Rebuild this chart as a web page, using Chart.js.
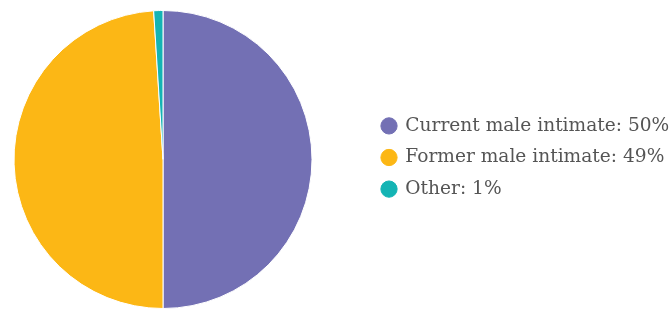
<!DOCTYPE html>
<html>
<head>
<meta charset="utf-8">
<script src="https://cdn.jsdelivr.net/npm/chart.js@4"></script>
<style>
  html, body { margin: 0; padding: 0; background: #fff; }
  #wrap { width: 670px; height: 309px; }
</style>
</head>
<body>
<div id="wrap"><canvas id="mycanvas"></canvas></div>
<script>
var categories = ["Current male intimate", "Former male intimate", "Other"];
var shares = [50, 49, 1];
var sliceColors = ["#7370B4", "#FCB715", "#14B4B4"];

// keeps the pie on the left and moves the legend to where it sits in the picture
var legendPlace = {
	id: 'legendPlace',
	afterInit: function(chart) {
		var legend = chart.legend;
		var fit = legend.fit;
		legend.fit = function() {
			fit.call(this);
			this.width = 344;
		};
	},
	afterLayout: function(chart) {
		chart.legend.left = 369;
		chart.legend.right = 670;
		chart.legend.top -= 2;
		chart.legend.bottom -= 2;
	}
};

var ctx = document.getElementById("mycanvas");

var myPieChart = new Chart(ctx, {
	type: 'pie',
	data: {
		labels: categories,
		datasets: [
			{
				data: shares,
				backgroundColor: sliceColors,
				borderColor: "#ffffff",
				borderWidth: 1
			}
		]
	},
	options: {
		responsive: true,
		maintainAspectRatio: false,
		animation: false,
		layout: { padding: { top: 10 } },
		plugins: {
			tooltip: { enabled: false },
			legend: {
				position: 'right',
				labels: {
					usePointStyle: true,
					pointStyle: 'circle',
					boxWidth: 14,
					boxHeight: 11.5,
					padding: 13,
					color: "#555555",
					font: { family: "'DejaVu Serif'", size: 18.6 },
					generateLabels: function(chart) {
						var items = Chart.overrides.pie.plugins.legend.labels.generateLabels(chart);
						items.forEach(function(item, i) {
							item.text = categories[i] + ": " + shares[i] + "%";
							item.strokeStyle = item.fillStyle;
						});
						return items;
					}
				}
			}
		}
	},
	plugins: [legendPlace]
});
</script>
</body>
</html>
